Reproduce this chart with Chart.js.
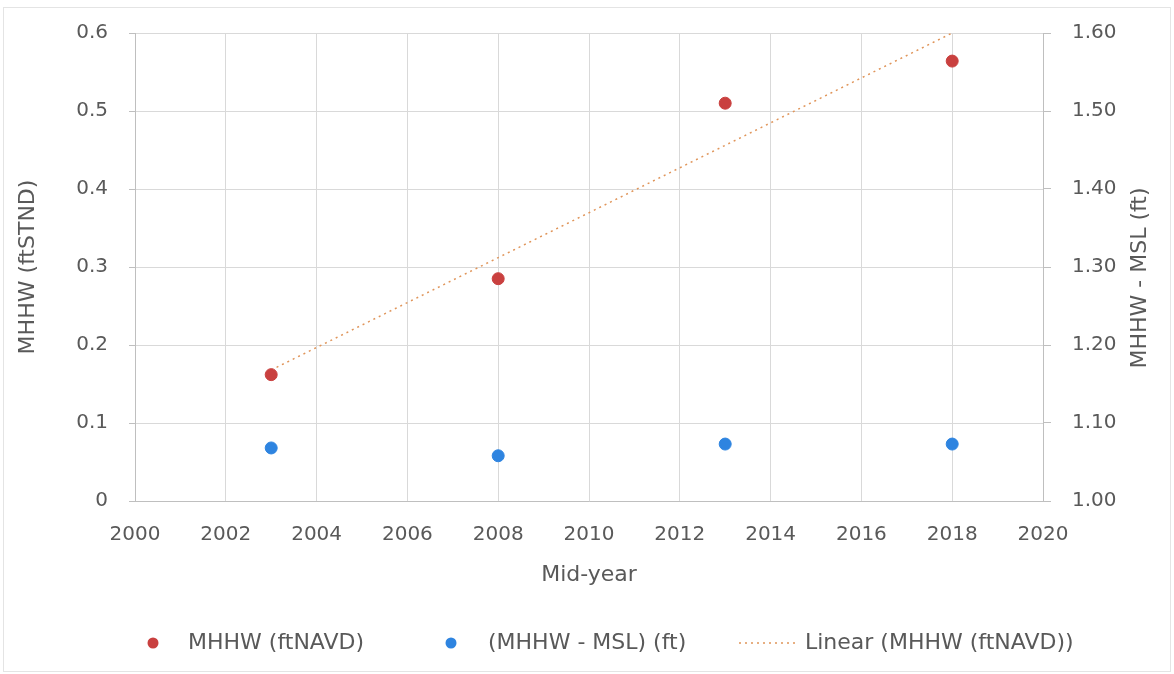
<!DOCTYPE html>
<html>
<head>
<meta charset="utf-8">
<script src="https://cdn.jsdelivr.net/npm/chart.js@4.4.1/dist/chart.umd.min.js"></script>
<style>
  body { margin: 0; background: #fff; }
  #wrap { position: relative; width: 1174px; height: 674px; }
  #frame { position: absolute; left: 3px; top: 7px; right: 3px; bottom: 2px; border: 1px solid #e4e4e4; pointer-events: none; }
</style>
</head>
<body>
<div id="wrap">
  <canvas id="tideChart" width="1174" height="674"></canvas>
  <div id="frame"></div>
</div>
<script>
// years (mid-year)
const years = [2003, 2008, 2013, 2018];
// MHHW (ftNAVD), left axis
const mhhw = [0.162, 0.285, 0.510, 0.564];
// (MHHW - MSL) (ft), right axis
const mhhwMinusMsl = [1.068, 1.058, 1.073, 1.073];
// linear trend ends
const trendYears = [2003, 2018];
const trendValues = [0.168, 0.600];

const xTicks = [2000, 2002, 2004, 2006, 2008, 2010, 2012, 2014, 2016, 2018, 2020];

const fontFam = "'DejaVu Sans', 'Open Sans', sans-serif";
const textColor = "#595959";
const gridColor = "#d9d9d9";

const colRed = "#c9403f";
const colBlue = "#2e84e0";
const colTrend = "#e0955a";

// Legend drawn by hand so the dotted line and dots look like the original
const bottomLegend = {
    id: "bottomLegend",
    afterDraw(chart) {
        const ctx = chart.ctx;
        const y = 643;
        ctx.save();
        ctx.font = "22px " + fontFam;
        ctx.textBaseline = "middle";
        // item 1
        ctx.beginPath();
        ctx.fillStyle = colRed;
        ctx.arc(153, y, 5.5, 0, Math.PI * 2);
        ctx.fill();
        ctx.fillStyle = textColor;
        ctx.fillText(chart.data.datasets[0].label, 188, y);
        // item 2
        ctx.beginPath();
        ctx.fillStyle = colBlue;
        ctx.arc(451, y, 5.5, 0, Math.PI * 2);
        ctx.fill();
        ctx.fillStyle = textColor;
        ctx.fillText(chart.data.datasets[1].label, 488, y);
        // item 3
        ctx.beginPath();
        ctx.strokeStyle = colTrend;
        ctx.lineWidth = 1.5;
        ctx.setLineDash([2, 4]);
        ctx.moveTo(739, y);
        ctx.lineTo(795, y);
        ctx.stroke();
        ctx.setLineDash([]);
        ctx.fillText(chart.data.datasets[2].label, 805, y);
        ctx.restore();
    }
};

// Right axis title reads bottom-to-top like the left one
const rightTitle = {
    id: "rightTitle",
    afterDraw(chart) {
        const ctx = chart.ctx;
        ctx.save();
        ctx.translate(1140, 278);
        ctx.rotate(-Math.PI / 2);
        ctx.font = "22px " + fontFam;
        ctx.fillStyle = textColor;
        ctx.textAlign = "center";
        ctx.textBaseline = "middle";
        ctx.fillText("MHHW - MSL (ft)", 0, 0);
        ctx.restore();
    }
};

const ctx = document.getElementById("tideChart").getContext("2d");
const tideChart = new Chart(ctx, {
    type: "scatter",
    data: {
        datasets: [
            {
                label: "MHHW (ftNAVD)",
                data: years.map((yr, i) => ({ x: yr, y: mhhw[i] })),
                yAxisID: "y",
                backgroundColor: colRed,
                borderColor: colRed,
                pointRadius: 6,
                order: 1
            },
            {
                label: "(MHHW - MSL) (ft)",
                data: years.map((yr, i) => ({ x: yr, y: mhhwMinusMsl[i] })),
                yAxisID: "y1",
                backgroundColor: colBlue,
                borderColor: colBlue,
                pointRadius: 6,
                order: 1
            },
            {
                label: "Linear (MHHW (ftNAVD))",
                type: "line",
                data: trendYears.map((yr, i) => ({ x: yr, y: trendValues[i] })),
                yAxisID: "y",
                borderColor: colTrend,
                borderWidth: 1.5,
                borderDash: [2, 4],
                pointRadius: 0,
                fill: false,
                order: 2
            }
        ]
    },
    options: {
        responsive: false,
        animation: false,
        layout: { padding: { top: 30, bottom: 82, left: 0, right: 0 } },
        plugins: {
            legend: { display: false },
            tooltip: { enabled: false }
        },
        scales: {
            x: {
                type: "linear",
                min: 2000,
                max: 2020,
                afterBuildTicks: (scale) => { scale.ticks = xTicks.map(v => ({ value: v })); },
                afterFit: (scale) => { scale.height = 91; },
                grid: { color: gridColor, drawTicks: false },
                border: { color: "#bfbfbf" },
                ticks: {
                    color: textColor,
                    font: { family: fontFam, size: 20 },
                    padding: 22,
                    callback: (v) => String(v)
                },
                title: {
                    display: true,
                    text: "Mid-year",
                    color: textColor,
                    font: { family: fontFam, size: 22 },
                    padding: { top: 4, bottom: 4 }
                }
            },
            y: {
                position: "left",
                min: 0,
                max: 0.6,
                afterFit: (scale) => { scale.width = 135; },
                grid: { color: gridColor, drawTicks: true, tickLength: 6, tickColor: "#bfbfbf" },
                border: { color: "#bfbfbf" },
                ticks: {
                    stepSize: 0.1,
                    color: textColor,
                    font: { family: fontFam, size: 20 },
                    padding: 21,
                    callback: (v) => (Math.round(v * 10) / 10).toString()
                },
                title: {
                    display: true,
                    text: "MHHW (ftSTND)",
                    color: textColor,
                    font: { family: fontFam, size: 22 },
                    padding: { top: 15, bottom: 0 }
                }
            },
            y1: {
                position: "right",
                min: 1.0,
                max: 1.6,
                afterFit: (scale) => { scale.width = 131; },
                grid: { drawOnChartArea: false, drawTicks: true, tickLength: 8, tickColor: "#bfbfbf" },
                border: { color: "#bfbfbf" },
                ticks: {
                    stepSize: 0.1,
                    color: textColor,
                    font: { family: fontFam, size: 20 },
                    padding: 21,
                    callback: (v) => v.toFixed(2)
                }
            }
        }
    },
    plugins: [bottomLegend, rightTitle]
});
</script>
</body>
</html>
